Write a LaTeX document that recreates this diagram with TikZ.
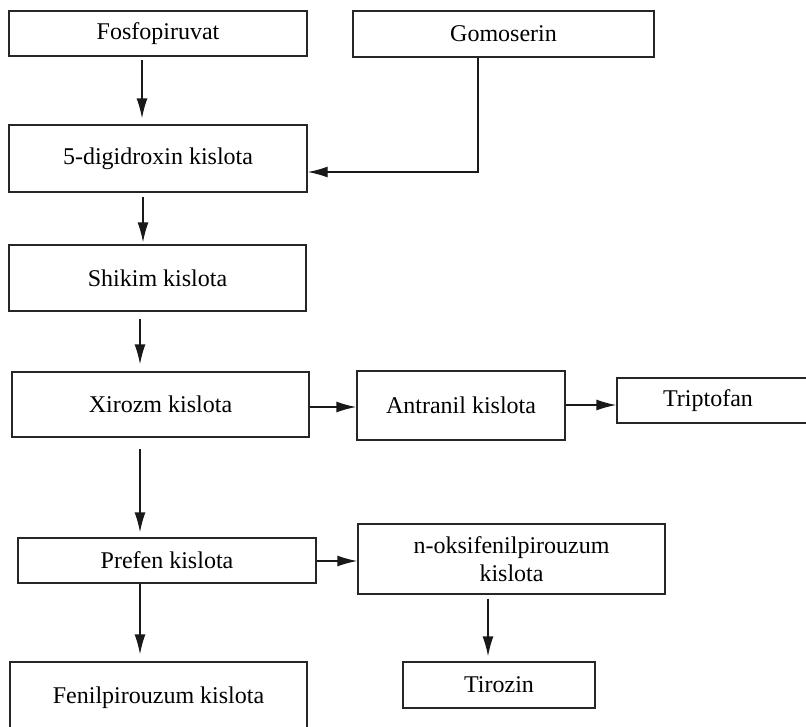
\documentclass[tikz,border=0pt]{standalone}
\usepackage{fontspec}
\setmainfont{Liberation Serif}
\usetikzlibrary{arrows.meta}
\begin{document}
\begin{tikzpicture}[x=1pt,y=-1pt,
  box/.style={draw=black!85,line width=1.4pt,rectangle,inner sep=0pt,
    font=\fontsize{24}{28}\selectfont,align=center},
  arr/.style={draw=black!90,line width=1.4pt,-{Latex[length=20pt,width=11pt]}}]
\useasboundingbox (0,0) rectangle (806,726);

% boxes
\node[box,minimum width=298,minimum height=45] (fosfo) at (158,33.5) {Fosfopiruvat};
\node[box,minimum width=301,minimum height=46] (gomo) at (503.5,34) {Gomoserin};
\node[box,minimum width=298,minimum height=67] (digid) at (158,158.5) {5-digidroxin kislota};
\node[box,minimum width=297,minimum height=66] (shikim) at (157.5,278) {Shikim kislota};
\node[box,minimum width=297,minimum height=65] (xirozm) at (160.5,404.5) {Xirozm kislota};
\node[box,minimum width=208,minimum height=69] (antranil) at (461,405.5) {Antranil kislota};
\node[box,minimum width=196,minimum height=45] (tript) at (715,400.5) {\hspace*{-14pt}Triptofan};
\node[box,minimum width=298,minimum height=45] (prefen) at (167,560.5) {Prefen kislota};
\node[box,minimum width=307,minimum height=70] (noksi) at (511.5,559) {n-oksifenilpirouzum\\kislota};
\node[box,minimum width=192,minimum height=46] (tirozin) at (499,685) {Tirozin};
\node[box,minimum width=297,minimum height=72] (fenil) at (158.5,698) {Fenilpirouzum kislota};

% vertical steps of the main chain
\draw[arr,shorten <=3pt,shorten >=6pt] ([xshift=-16pt]fosfo.south) -- ([xshift=-16pt]fosfo.south |- digid.north);
\draw[arr,shorten <=4pt,shorten >=2pt] ([xshift=-15pt]digid.south) -- ([xshift=-15pt]digid.south |- shikim.north);
\draw[arr,shorten <=7pt,shorten >=7pt] ([xshift=-17.5pt]shikim.south) -- ([xshift=-17.5pt]shikim.south |- xirozm.north);
\draw[arr,shorten <=11pt,shorten >=5pt] ([xshift=-20.5pt]xirozm.south) -- ([xshift=-20.5pt]xirozm.south |- prefen.north);
\draw[arr,shorten >=7pt] ([xshift=-27pt]prefen.south) -- ([xshift=-27pt]prefen.south |- fenil.north);
\draw[arr,shorten <=4pt,shorten >=5pt] ([xshift=-23.5pt]noksi.south) -- ([xshift=-23.5pt]noksi.south |- tirozin.north);

% side branch from Gomoserin
\draw[arr] ([xshift=-25.5pt]gomo.south) |- ([yshift=-13.5pt]digid.east);

% horizontal steps
\draw[arr] ([yshift=-2.5pt]xirozm.east) -- ([yshift=-2.5pt]xirozm.east -| antranil.west);
\draw[arr] (antranil.east |- 0,405) -- (tript.west |- 0,405);
\draw[arr] ([yshift=-0.5pt]prefen.east) -- ([yshift=-0.5pt]prefen.east -| noksi.west);
\end{tikzpicture}
\end{document}
